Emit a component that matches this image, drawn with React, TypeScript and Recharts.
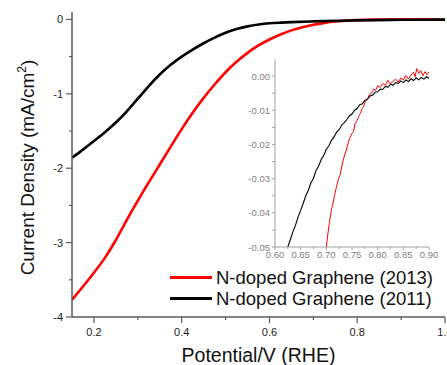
import React from "react";
import { LineChart, Line, XAxis, YAxis, Legend, Label } from "recharts";

// ---- main chart data ----
const redX = [0.15, 0.175, 0.2, 0.225, 0.25, 0.275, 0.3, 0.325, 0.35, 0.375, 0.4, 0.425, 0.45, 0.475, 0.5, 0.525, 0.55, 0.575, 0.6, 0.625, 0.65, 0.675, 0.7, 0.725, 0.75, 0.775, 0.8, 0.85, 0.9, 0.95, 1.0];
const redY = [-3.77, -3.59, -3.405, -3.205, -2.965, -2.695, -2.435, -2.19, -1.95, -1.71, -1.475, -1.255, -1.055, -0.875, -0.71, -0.57, -0.45, -0.35, -0.27, -0.202, -0.147, -0.104, -0.071, -0.046, -0.028, -0.016, -0.008, -0.002, 0.0, 0.001, 0.0];
const blackX = [0.15, 0.175, 0.2, 0.225, 0.25, 0.275, 0.3, 0.325, 0.35, 0.375, 0.4, 0.425, 0.45, 0.475, 0.5, 0.525, 0.55, 0.575, 0.6, 0.625, 0.65, 0.7, 0.75, 0.8, 0.9, 1.0];
const blackY = [-1.86, -1.75, -1.635, -1.515, -1.385, -1.235, -1.065, -0.895, -0.74, -0.61, -0.5, -0.405, -0.32, -0.245, -0.18, -0.13, -0.093, -0.068, -0.052, -0.043, -0.036, -0.026, -0.018, -0.012, -0.005, -0.002];

const xMajorTicks = [0.2, 0.4, 0.6, 0.8, 1.0];
const xMinorTicks = [0.3, 0.5, 0.7, 0.9];
const yMajorTicks = [0, -1, -2, -3, -4];
const yMinorTicks = [-0.5, -1.5, -2.5, -3.5];

// ---- inset data ----
const insetBlackX = [0.625, 0.63, 0.635, 0.64, 0.645, 0.65, 0.655, 0.66, 0.665, 0.67, 0.675, 0.68, 0.685, 0.69, 0.695, 0.7, 0.705, 0.71, 0.715, 0.72, 0.725, 0.73, 0.735, 0.74, 0.745, 0.75, 0.755, 0.76, 0.765, 0.77, 0.775, 0.78, 0.785, 0.79, 0.795, 0.8, 0.805, 0.81, 0.815, 0.82, 0.825, 0.83, 0.835, 0.84, 0.845, 0.85, 0.855, 0.86, 0.865, 0.87, 0.875, 0.88, 0.885, 0.89, 0.895, 0.9];
const insetBlackY = [-0.05, -0.0478, -0.0455, -0.0436, -0.0412, -0.0393, -0.0372, -0.035, -0.0334, -0.0312, -0.0299, -0.0276, -0.0263, -0.0244, -0.0232, -0.0214, -0.0204, -0.0188, -0.0178, -0.0164, -0.0157, -0.0143, -0.0136, -0.0127, -0.0116, -0.0111, -0.01, -0.0095, -0.0084, -0.0081, -0.0071, -0.0068, -0.0058, -0.0056, -0.0047, -0.0046, -0.0038, -0.0039, -0.003, -0.0032, -0.0024, -0.0027, -0.0019, -0.0022, -0.0014, -0.0019, -0.0011, -0.0016, -0.0008, -0.0013, -0.0005, -0.0011, -0.0004, -0.0009, -0.0002, -0.0006];
const insetRedX = [0.7, 0.703, 0.706, 0.71, 0.713, 0.716, 0.72, 0.724, 0.727, 0.73, 0.734, 0.737, 0.74, 0.743, 0.746, 0.75, 0.753, 0.756, 0.76, 0.763, 0.766, 0.77, 0.773, 0.776, 0.78, 0.784, 0.788, 0.792, 0.796, 0.8, 0.805, 0.81, 0.815, 0.82, 0.825, 0.83, 0.835, 0.84, 0.845, 0.85, 0.855, 0.86, 0.865, 0.87, 0.873, 0.876, 0.88, 0.884, 0.888, 0.892, 0.896, 0.9];
const insetRedY = [-0.05, -0.0462, -0.0428, -0.0391, -0.0372, -0.0349, -0.0322, -0.03, -0.0288, -0.0265, -0.024, -0.0225, -0.021, -0.0192, -0.018, -0.0168, -0.0162, -0.0139, -0.013, -0.0118, -0.011, -0.0094, -0.0088, -0.0073, -0.0068, -0.0054, -0.005, -0.0038, -0.0042, -0.0028, -0.0033, -0.0022, -0.0027, -0.0012, -0.0024, -0.0015, -0.0009, -0.0018, -0.0006, -0.0011, 0.0002, -0.0009, 0.0004, 0.0011, -0.0002, 0.0022, 0.0008, 0.0016, 0.0001, 0.0013, 0.0004, 0.0012];

const insetXMajor = [0.6, 0.65, 0.7, 0.75, 0.8, 0.85, 0.9];
const insetXMinor = [0.625, 0.675, 0.725, 0.775, 0.825, 0.875];
const insetYMajor = [0, -0.01, -0.02, -0.03, -0.04, -0.05];
const insetYMinor = [-0.005, -0.015, -0.025, -0.035, -0.045];

const seriesNames = ["N-doped Graphene (2013)", "N-doped Graphene (2011)"];
const seriesColors = ["#ff0000", "#000000"];

const zip = (xs: number[], ys: number[]) => xs.map((x, i) => ({ x, y: ys[i] }));
const redData = zip(redX, redY);
const blackData = zip(blackX, blackY);
const insetRedData = zip(insetRedX, insetRedY);
const insetBlackData = zip(insetBlackX, insetBlackY);

const FONT = "'Liberation Sans', Arial, sans-serif";
const FRAME = "#5a5a5a";
const INSET_FRAME = "#a0a0a0";
const INSET_TEXT = "#808080";

const isIn = (v: number, arr: number[]) => arr.some((a) => Math.abs(a - v) < 1e-9);

const MainBottomTick = (props: any) => {
  const { x, y, payload } = props;
  const major = isIn(payload.value, xMajorTicks);
  return (
    <g>
      <line x1={x} x2={x} y1={y} y2={y + (major ? 6 : 3)} stroke={FRAME} strokeWidth={1.2} />
      {major && (
        <text x={x} y={y + 19} textAnchor="middle" fontSize={11} fill="#222" fontFamily={FONT}>
          {payload.value.toFixed(1)}
        </text>
      )}
    </g>
  );
};
const MainLeftTick = (props: any) => {
  const { x, y, payload } = props;
  const major = isIn(payload.value, yMajorTicks);
  return (
    <g>
      <line x1={x - (major ? 6 : 3)} x2={x} y1={y} y2={y} stroke={FRAME} strokeWidth={1.2} />
      {major && (
        <text x={x - 9} y={y + 4} textAnchor="end" fontSize={11} fill="#222" fontFamily={FONT}>
          {String(payload.value)}
        </text>
      )}
    </g>
  );
};
const MainTopTick = (props: any) => {
  const { x, y } = props;
  return <line x1={x} x2={x} y1={y} y2={y + 6} stroke={FRAME} strokeWidth={1.2} />;
};
const MainRightTick = (props: any) => {
  const { x, y } = props;
  return <line x1={x - 6} x2={x} y1={y} y2={y} stroke={FRAME} strokeWidth={1.2} />;
};

const InsetBottomTick = (props: any) => {
  const { x, y, payload } = props;
  const major = isIn(payload.value, insetXMajor);
  return (
    <g>
      <line x1={x} x2={x} y1={y} y2={y + (major ? 3 : 2)} stroke={INSET_FRAME} strokeWidth={1} />
      {major && (
        <text x={x} y={y + 10.5} textAnchor="middle" fontSize={9.5} fill={INSET_TEXT} fontFamily={FONT}>
          {payload.value.toFixed(2)}
        </text>
      )}
    </g>
  );
};
const InsetLeftTick = (props: any) => {
  const { x, y, payload } = props;
  const major = isIn(payload.value, insetYMajor);
  return (
    <g>
      <line x1={x - 3} x2={x} y1={y} y2={y} stroke={INSET_FRAME} strokeWidth={1} />
      {major && (
        <text x={x - 5} y={y + 3.5} textAnchor="end" fontSize={9.5} fill={INSET_TEXT} fontFamily={FONT}>
          {payload.value === 0 ? "0.00" : payload.value.toFixed(2)}
        </text>
      )}
    </g>
  );
};
const InsetTopTick = (props: any) => {
  const { x, y } = props;
  return <line x1={x} x2={x} y1={y} y2={y + 3} stroke={INSET_FRAME} strokeWidth={1} />;
};
const InsetRightTick = (props: any) => {
  const { x, y } = props;
  return <line x1={x - 3} x2={x} y1={y} y2={y} stroke={INSET_FRAME} strokeWidth={1} />;
};

const YLabel = (props: any) => {
  const vb = props.viewBox || {};
  const cx = 34;
  const cy = (vb.y ?? 12) + (vb.height ?? 305) / 2 + 3;
  return (
    <text
      x={cx}
      y={cy}
      transform={`rotate(-90, ${cx}, ${cy})`}
      textAnchor="middle"
      fontSize={19}
      fill="#111"
      fontFamily={FONT}
    >
      Current Density (mA/cm
      <tspan fontSize={12} dy={-8}>2</tspan>
      <tspan dy={8}>)</tspan>
    </text>
  );
};

const XLabel = (props: any) => {
  const vb = props.viewBox || {};
  const cx = (vb.x ?? 72) + (vb.width ?? 373) / 2;
  return (
    <text x={cx} y={362} textAnchor="middle" fontSize={19.5} fill="#111" fontFamily={FONT}>
      Potential/V (RHE)
    </text>
  );
};

const LegendContent = () => (
  <div style={{ fontFamily: FONT, fontSize: 18.5, color: "#111" }}>
    {seriesNames.map((name, i) => (
      <div key={name} style={{ display: "flex", alignItems: "center", height: 21, whiteSpace: "nowrap" }}>
        <div style={{ width: 42, height: 3, background: seriesColors[i], marginRight: 4 }} />
        <span>{name}</span>
      </div>
    ))}
  </div>
);

export default function App() {
  return (
    <div style={{ position: "relative", width: 447, height: 365, background: "#fff" }}>
      <style>{"body{margin:0;}"}</style>
      <LineChart width={447} height={365} margin={{ top: 12, right: 2, left: 0, bottom: 0 }}>
        <XAxis
          dataKey="x"
          type="number"
          domain={[0.15, 1.0]}
          allowDataOverflow
          ticks={[...xMajorTicks, ...xMinorTicks].sort((a, b) => a - b)}
          interval={0}
          height={48}
          tickSize={0}
          tickMargin={0}
          tickLine={false}
          tick={<MainBottomTick />}
          axisLine={{ stroke: FRAME, strokeWidth: 1.5 }}
        >
          <Label content={<XLabel />} />
        </XAxis>
        <XAxis
          xAxisId="top"
          orientation="top"
          dataKey="x"
          type="number"
          domain={[0.15, 1.0]}
          allowDataOverflow
          ticks={xMajorTicks}
          interval={0}
          height={0}
          tickSize={0}
          tickMargin={0}
          tickLine={false}
          tick={<MainTopTick />}
          axisLine={{ stroke: FRAME, strokeWidth: 1.5 }}
        />
        <YAxis
          type="number"
          domain={[-4, 0.1]}
          allowDataOverflow
          ticks={[...yMajorTicks, ...yMinorTicks]}
          interval={0}
          width={72}
          tickSize={0}
          tickMargin={0}
          tickLine={false}
          tick={<MainLeftTick />}
          axisLine={{ stroke: FRAME, strokeWidth: 1.5 }}
        >
          <Label content={<YLabel />} />
        </YAxis>
        <YAxis
          yAxisId="right"
          orientation="right"
          type="number"
          domain={[-4, 0.1]}
          allowDataOverflow
          ticks={yMajorTicks}
          interval={0}
          width={0}
          tickSize={0}
          tickMargin={0}
          tickLine={false}
          tick={<MainRightTick />}
          axisLine={{ stroke: FRAME, strokeWidth: 1.5 }}
        />
        <Line data={redData} dataKey="y" name={seriesNames[0]} stroke={seriesColors[0]} strokeWidth={2.6} dot={false} isAnimationActive={false} type="natural" />
        <Line data={blackData} dataKey="y" name={seriesNames[1]} stroke={seriesColors[1]} strokeWidth={2.6} dot={false} isAnimationActive={false} type="natural" />
        <Legend
          layout="horizontal"
          verticalAlign="middle"
          align="center"
          content={<LegendContent />}
          wrapperStyle={{ position: "absolute", left: 170, top: 267, width: 270, bottom: "auto", right: "auto" }}
        />
      </LineChart>

      <div style={{ position: "absolute", left: 228, top: 52 }}>
        <LineChart width={210} height={212} margin={{ top: 7, right: 9, left: 0, bottom: 0 }}>
          <XAxis
            dataKey="x"
            type="number"
            domain={[0.6, 0.9]}
            allowDataOverflow
            ticks={[...insetXMajor, ...insetXMinor].sort((a, b) => a - b)}
            interval={0}
            height={17}
            tickSize={0}
            tickMargin={0}
            tickLine={false}
            tick={<InsetBottomTick />}
            axisLine={{ stroke: INSET_FRAME, strokeWidth: 1 }}
          />
          <XAxis
            xAxisId="top"
            orientation="top"
            dataKey="x"
            type="number"
            domain={[0.6, 0.9]}
            allowDataOverflow
            ticks={insetXMajor}
            interval={0}
            height={0}
            tickSize={0}
            tickMargin={0}
            tickLine={false}
            tick={<InsetTopTick />}
            axisLine={{ stroke: INSET_FRAME, strokeWidth: 1 }}
          />
          <YAxis
            type="number"
            domain={[-0.05, 0.005]}
            allowDataOverflow
            ticks={[...insetYMajor, ...insetYMinor]}
            interval={0}
            width={47}
            tickSize={0}
            tickMargin={0}
            tickLine={false}
            tick={<InsetLeftTick />}
            axisLine={{ stroke: INSET_FRAME, strokeWidth: 1 }}
          />
          <YAxis
            yAxisId="right"
            orientation="right"
            type="number"
            domain={[-0.05, 0.005]}
            allowDataOverflow
            ticks={insetYMajor}
            interval={0}
            width={0}
            tickSize={0}
            tickMargin={0}
            tickLine={false}
            tick={<InsetRightTick />}
            axisLine={{ stroke: INSET_FRAME, strokeWidth: 1 }}
          />
          <Line data={insetRedData} dataKey="y" stroke={seriesColors[0]} strokeWidth={1} dot={false} isAnimationActive={false} type="linear" />
          <Line data={insetBlackData} dataKey="y" stroke={seriesColors[1]} strokeWidth={1.1} dot={false} isAnimationActive={false} type="linear" />
        </LineChart>
      </div>
    </div>
  );
}
